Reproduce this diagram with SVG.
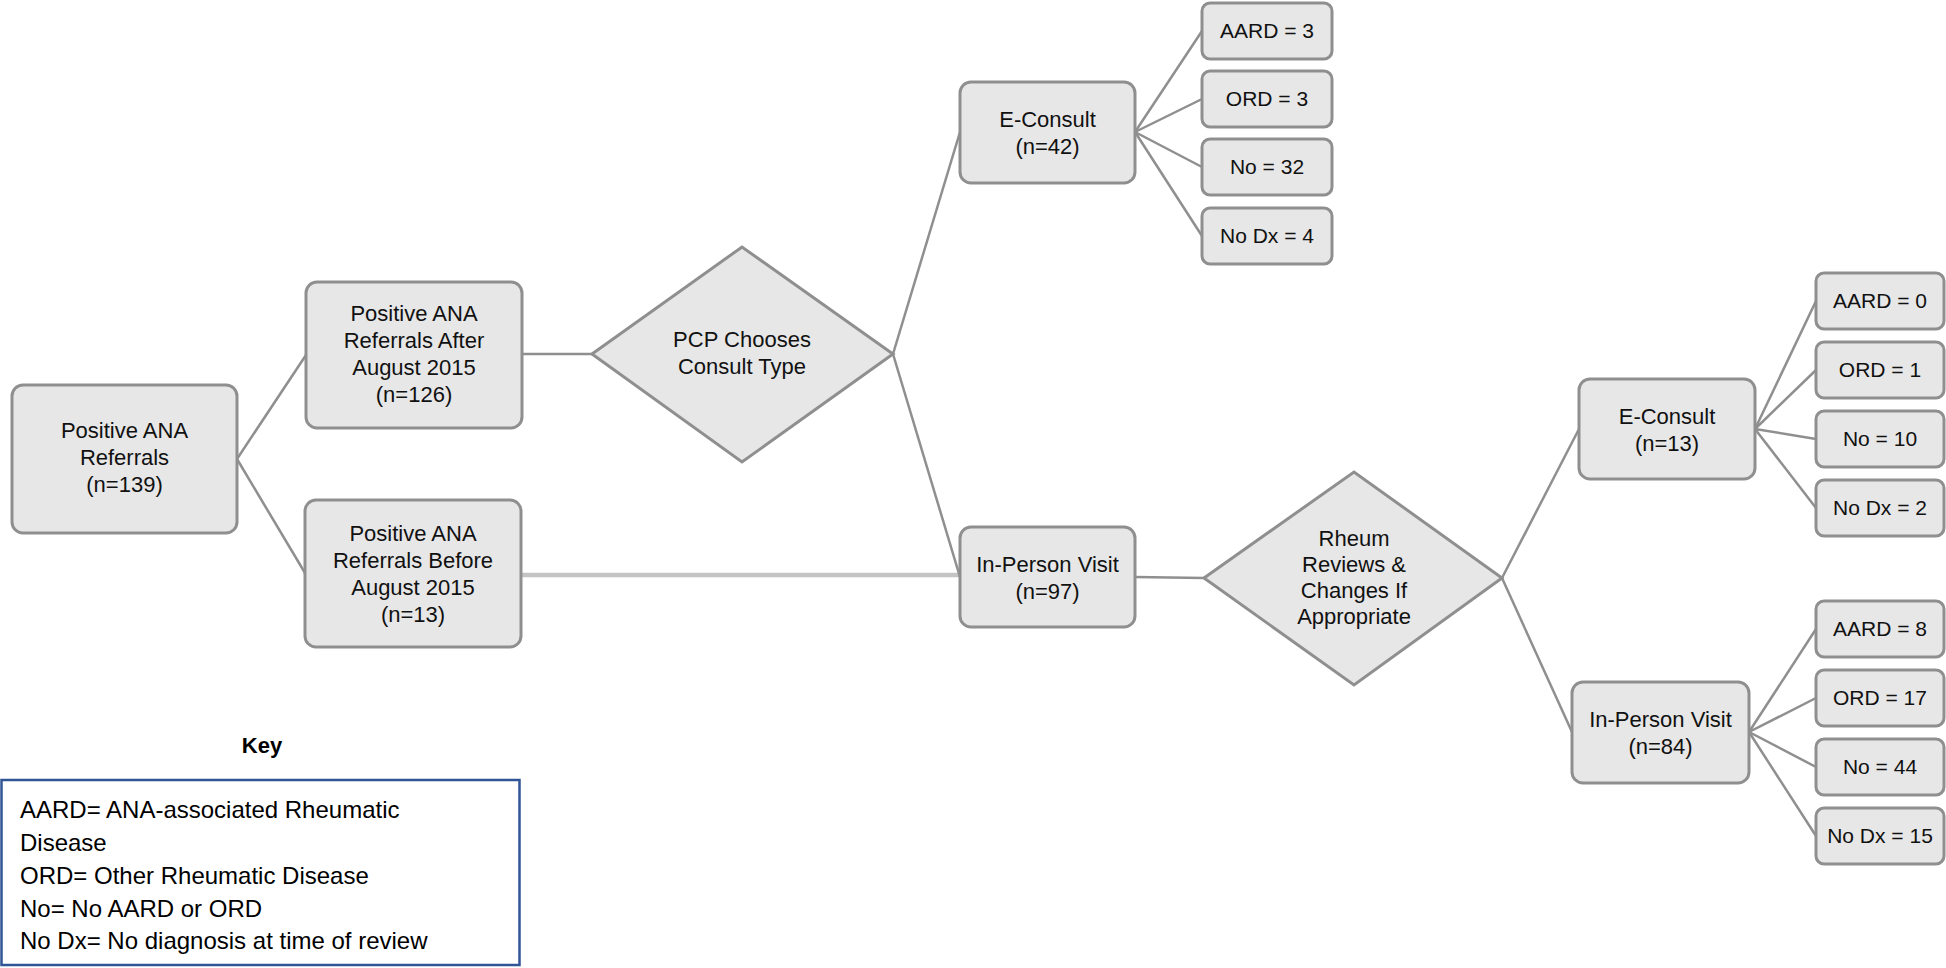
<svg xmlns="http://www.w3.org/2000/svg" width="1946" height="968" viewBox="0 0 1946 968">
<style>
.box{fill:#e7e7e7;stroke:#8f8f8f;stroke-width:3}
.dia{fill:#e7e7e7;stroke:#8f8f8f;stroke-width:3;stroke-linejoin:miter}
.t{font-family:"Liberation Sans",Arial,sans-serif;font-size:22px;fill:#111;text-anchor:middle}
.r{font-family:"Liberation Sans",Arial,sans-serif;font-size:21px;fill:#111;text-anchor:middle}
.k{font-family:"Liberation Sans",Arial,sans-serif;font-size:24px;fill:#000}
.kt{font-family:"Liberation Sans",Arial,sans-serif;font-size:22px;font-weight:bold;fill:#000;text-anchor:middle}
.c{stroke:#8f8f8f;stroke-width:2.5;fill:none}
.thick{stroke:#c4c4c4;stroke-width:4.5;fill:none}
</style>
<rect width="1946" height="968" fill="#ffffff"/>
<g id="connectors">
<line class="c" x1="237" y1="459" x2="306" y2="355"/>
<line class="c" x1="237" y1="459" x2="305" y2="573"/>
<line class="c" x1="522" y1="354" x2="592" y2="354"/>
<line class="thick" x1="521" y1="575" x2="960" y2="575"/>
<line class="c" x1="893" y1="354" x2="960" y2="132"/>
<line class="c" x1="893" y1="354" x2="960" y2="577"/>
<line class="c" x1="1135" y1="132" x2="1202" y2="31"/>
<line class="c" x1="1135" y1="132" x2="1202" y2="99"/>
<line class="c" x1="1135" y1="132" x2="1202" y2="167"/>
<line class="c" x1="1135" y1="132" x2="1202" y2="236"/>
<line class="c" x1="1135" y1="577" x2="1204" y2="578"/>
<line class="c" x1="1502" y1="578" x2="1579" y2="429"/>
<line class="c" x1="1502" y1="578" x2="1572" y2="732"/>
<line class="c" x1="1755" y1="429" x2="1816" y2="301"/>
<line class="c" x1="1755" y1="429" x2="1816" y2="370"/>
<line class="c" x1="1755" y1="429" x2="1816" y2="439"/>
<line class="c" x1="1755" y1="429" x2="1816" y2="508"/>
<line class="c" x1="1749" y1="732" x2="1816" y2="629"/>
<line class="c" x1="1749" y1="732" x2="1816" y2="698"/>
<line class="c" x1="1749" y1="732" x2="1816" y2="767"/>
<line class="c" x1="1749" y1="732" x2="1816" y2="836"/>
</g>
<g id="root">
<rect class="box" x="12" y="385" width="225" height="148" rx="11"/>
<text class="t" x="124.5" y="438">Positive ANA</text>
<text class="t" x="124.5" y="465">Referrals</text>
<text class="t" x="124.5" y="492">(n=139)</text>
</g>
<g id="after">
<rect class="box" x="306" y="282" width="216" height="146" rx="11"/>
<text class="t" x="414" y="321">Positive ANA</text>
<text class="t" x="414" y="348">Referrals After</text>
<text class="t" x="414" y="375">August 2015</text>
<text class="t" x="414" y="402">(n=126)</text>
</g>
<g id="before">
<rect class="box" x="305" y="500" width="216" height="147" rx="11"/>
<text class="t" x="413" y="541">Positive ANA</text>
<text class="t" x="413" y="568">Referrals Before</text>
<text class="t" x="413" y="595">August 2015</text>
<text class="t" x="413" y="622">(n=13)</text>
</g>
<g id="pcp">
<polygon class="dia" points="592,354 742,247 893,354 742,462"/>
<text class="t" x="742" y="347">PCP Chooses</text>
<text class="t" x="742" y="374">Consult Type</text>
</g>
<g id="econsult42">
<rect class="box" x="960" y="82" width="175" height="101" rx="11"/>
<text class="t" x="1047.5" y="127">E-Consult</text>
<text class="t" x="1047.5" y="154">(n=42)</text>
</g>
<g id="r-aard3"><rect class="box" x="1202" y="3" width="130" height="56" rx="8"/><text class="r" x="1267" y="38">AARD = 3</text></g>
<g id="r-ord3"><rect class="box" x="1202" y="71" width="130" height="56" rx="8"/><text class="r" x="1267" y="106">ORD = 3</text></g>
<g id="r-no32"><rect class="box" x="1202" y="139" width="130" height="56" rx="8"/><text class="r" x="1267" y="174">No = 32</text></g>
<g id="r-nodx4"><rect class="box" x="1202" y="208" width="130" height="56" rx="8"/><text class="r" x="1267" y="243">No Dx = 4</text></g>
<g id="inperson97">
<rect class="box" x="960" y="527" width="175" height="100" rx="11"/>
<text class="t" x="1047.5" y="572">In-Person Visit</text>
<text class="t" x="1047.5" y="599">(n=97)</text>
</g>
<g id="rheum">
<polygon class="dia" points="1204,578 1354,472 1502,578 1354,685"/>
<text class="t" x="1354" y="546">Rheum</text>
<text class="t" x="1354" y="572">Reviews &amp;</text>
<text class="t" x="1354" y="598">Changes If</text>
<text class="t" x="1354" y="624">Appropriate</text>
</g>
<g id="econsult13">
<rect class="box" x="1579" y="379" width="176" height="100" rx="11"/>
<text class="t" x="1667" y="424">E-Consult</text>
<text class="t" x="1667" y="451">(n=13)</text>
</g>
<g id="r-aard0"><rect class="box" x="1816" y="273" width="128" height="56" rx="8"/><text class="r" x="1880" y="308">AARD = 0</text></g>
<g id="r-ord1"><rect class="box" x="1816" y="342" width="128" height="56" rx="8"/><text class="r" x="1880" y="377">ORD = 1</text></g>
<g id="r-no10"><rect class="box" x="1816" y="411" width="128" height="56" rx="8"/><text class="r" x="1880" y="446">No = 10</text></g>
<g id="r-nodx2"><rect class="box" x="1816" y="480" width="128" height="56" rx="8"/><text class="r" x="1880" y="515">No Dx = 2</text></g>
<g id="inperson84">
<rect class="box" x="1572" y="682" width="177" height="101" rx="11"/>
<text class="t" x="1660.5" y="727">In-Person Visit</text>
<text class="t" x="1660.5" y="754">(n=84)</text>
</g>
<g id="r-aard8"><rect class="box" x="1816" y="601" width="128" height="56" rx="8"/><text class="r" x="1880" y="636">AARD = 8</text></g>
<g id="r-ord17"><rect class="box" x="1816" y="670" width="128" height="56" rx="8"/><text class="r" x="1880" y="705">ORD = 17</text></g>
<g id="r-no44"><rect class="box" x="1816" y="739" width="128" height="56" rx="8"/><text class="r" x="1880" y="774">No = 44</text></g>
<g id="r-nodx15"><rect class="box" x="1816" y="808" width="128" height="56" rx="8"/><text class="r" x="1880" y="843">No Dx = 15</text></g>
<g id="key">
<text class="kt" x="262" y="753">Key</text>
<rect x="1.5" y="780" width="518" height="185" fill="#ffffff" stroke="#2f5597" stroke-width="2.5"/>
<text class="k" x="20" y="818">AARD= ANA-associated Rheumatic</text>
<text class="k" x="20" y="851">Disease</text>
<text class="k" x="20" y="884">ORD= Other Rheumatic Disease</text>
<text class="k" x="20" y="917">No= No AARD or ORD</text>
<text class="k" x="20" y="949">No Dx= No diagnosis at time of review</text>
</g>
</svg>
